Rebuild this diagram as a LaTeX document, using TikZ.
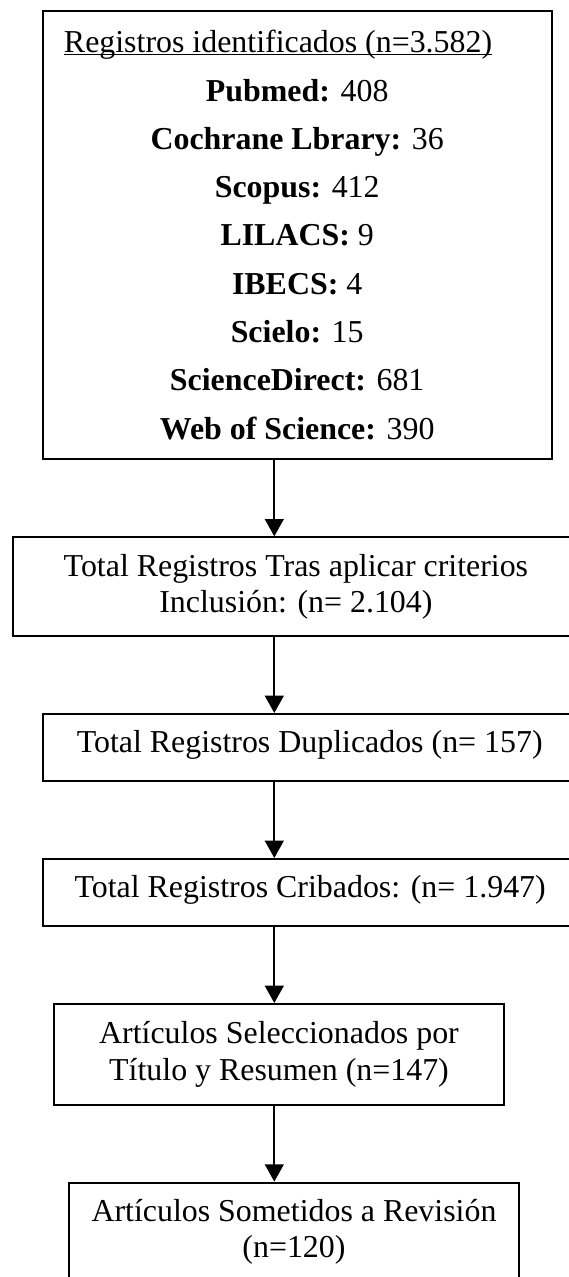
\documentclass[tikz,border=0pt]{standalone}
\usepackage{fontspec}
\setmainfont{Liberation Serif}
\usepackage{tikz}
\usetikzlibrary{arrows.meta}

% one pixel of the layout
\newdimen\pxu
\pxu=0.3762pt
% underline set close to the baseline
\newcommand{\ultext}[1]{\setbox0=\hbox{#1}\rlap{\rule[-1pt]{\wd0}{0.5pt}}\box0}

\begin{document}
\begin{tikzpicture}[x=\pxu, y=-\pxu,
    box/.style={rectangle, draw, line width=0.75pt, inner sep=0pt, align=center,
        font=\fontsize{12}{13.73}\selectfont},
    onerow/.style={text height=8.4pt, text depth=4.6pt},
    arr/.style={-{Triangle[length=6.5pt, width=7pt]}, line width=0.9pt}]
    \useasboundingbox (0,0) rectangle (569,1277);
    \clip (0,0) rectangle (569,1277);

    \node (sources) [box, minimum width=508.7\pxu, minimum height=448.6\pxu,
        font=\fontsize{12}{18.17}\selectfont] at (297.2,235)
        {\ultext{Registros identificados (n=3.582)}\kern14.4pt\\
         \textbf{Pubmed:} 408\\
         \textbf{Cochrane Lbrary:} 36\\
         \textbf{Scopus:} 412\\
         \textbf{LILACS:} 9\\
         \textbf{IBECS:} 4\\
         \textbf{Scielo:} 15\\
         \textbf{ScienceDirect:} 681\\
         \textbf{Web of Science:} 390};
    \node (included) [box, minimum width=566.6\pxu, minimum height=98.7\pxu] at (295.9,586.7)
        {Total Registros Tras aplicar criterios\\ Inclusión: (n= 2.104)};
    \node (dupes) [box, onerow, minimum width=533.8\pxu, minimum height=67\pxu] at (309.7,747.5)
        {Total Registros Duplicados (n= 157)};
    \node (screened) [box, onerow, minimum width=535\pxu, minimum height=67\pxu] at (310.2,892.5)
        {Total Registros Cribados: (n= 1.947)};
    \node (selected) [box, minimum width=450.7\pxu, minimum height=101\pxu] at (279,1054.5)
        {Artículos Seleccionados por\\ Título y Resumen (n=147)};
    \node (reviewed) [box, minimum width=450\pxu, minimum height=98.7\pxu] at (294,1232)
        {Artículos Sometidos a Revisión\\ (n=120)};

    \coordinate (spine) at (274.3,0);

    \draw[arr] (sources.south -| spine) -- (included.north -| spine);
    \draw[arr] (included.south -| spine) -- (dupes.north -| spine);
    \draw[arr] (dupes.south -| spine) -- (screened.north -| spine);
    \draw[arr] (screened.south -| spine) -- (selected.north -| spine);
    \draw[arr] (selected.south -| spine) -- (reviewed.north -| spine);
\end{tikzpicture}
\end{document}
